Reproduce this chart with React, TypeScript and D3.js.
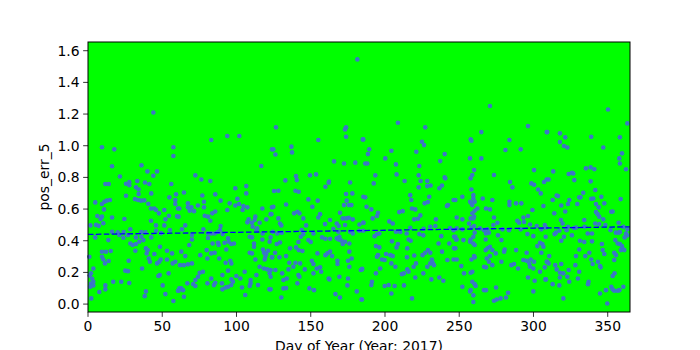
import React from "react";
import * as d3 from "d3";

// Day of year 2017 vs pos_err_5
const obsJanFeb: [number, number][] = [
  [44,1.21],[9.4,0.99],[17.7,0.977],[57.5,0.99],[57.5,0.935],[16.2,0.87],[36,0.876],[40,0.838],[46.5,0.838],[21.5,0.806],[44,0.81],[25.6,0.76],[27.8,0.77],[27.8,0.75],[11.7,0.758],[14,0.758],[33.2,0.777],[38.4,0.768],[41.3,0.758],[56.1,0.758],[32.3,0.737],[34.1,0.724],[34.1,0.695],[42.6,0.699],[59.3,0.693],[25.6,0.684],[54.8,0.674],[58.8,0.657],[4.9,0.642],[9.4,0.632],[11,0.646],[12.6,0.653],[14.8,0.657],[31.6,0.663],[33.7,0.657],[35.7,0.653],[37.9,0.655],[40.6,0.634],[10.8,0.598],[58.8,0.632],[60.6,0.604],[42.4,0.604],[44.7,0.604],[45.8,0.594],[47.8,0.573],[51.4,0.594],[6.3,0.556],[8.5,0.537],[9.4,0.552],[16.2,0.547],[24.5,0.537],[54.5,0.558],[60,0.554],[52.1,0.535],[42.4,0.526],[5.4,0.5],[7.2,0.494],[1.6,0.497],[10.3,0.51],[45.8,0.497],[51.4,0.497],[28.5,0.472],[16.2,0.457],[20,0.453],[24,0.455],[35.9,0.455],[38.6,0.453],[45.8,0.463],[49.2,0.448],[55.2,0.467],[21.1,0.436],[23.8,0.419],[26.9,0.436],[32.3,0.421],[35.9,0.425],[42.6,0.421],[13.7,0.404],[4.9,0.421],[28.5,0.383],[30.1,0.373],[32.3,0.379],[34.6,0.394],[37.3,0.404],[0.9,0.299],[9.4,0.33],[12.1,0.33],[15.3,0.335],[9.4,0.299],[10.3,0.282],[11.4,0.257],[13.9,0.272],[31.9,0.337],[39,0.352],[40.2,0.341],[39.5,0.32],[40.9,0.288],[41.7,0.267],[44.7,0.316],[48.5,0.362],[53.2,0.337],[56.6,0.32],[58.8,0.267],[57,0.257],[46.5,0.257],[48,0.267],[49,0.282],[53.2,0.282],[27.4,0.274],[3.6,0.225],[2,0.194],[25.1,0.211],[26.9,0.208],[36.4,0.225],[48.3,0.183],[47.4,0.177],[54.3,0.194],[3.6,0.141],[2,0.13],[3.6,0.118],[17,0.141],[22.4,0.141],[27.8,0.133],[11.7,0.118],[11.7,0.093],[50.3,0.118],[7.6,0.076],[39,0.08],[38.2,0.05],[52.1,0.063],[60.6,0.084],[61.5,0.099],[2.2,0.036],[57.5,0.019],[1.2,0.18],[2.8,0.16],[1.5,0.11]
];

const obsMarMay: [number, number][] = [
  [83,1.036],[93.8,1.061],[101.9,1.061],[123.9,0.977],[116.7,0.872],[72.3,0.813],[76.3,0.787],[82.4,0.777],[99.2,0.731],[106.6,0.745],[106.6,0.699],[64.6,0.705],[77,0.686],[85.7,0.693],[100.6,0.665],[67.3,0.636],[67.3,0.611],[69.6,0.611],[71.4,0.587],[68.5,0.589],[61.5,0.604],[78.1,0.646],[78.1,0.611],[74,0.623],[89.3,0.653],[85.7,0.585],[83.7,0.573],[93.8,0.594],[95.4,0.636],[99.2,0.623],[101.7,0.632],[104.6,0.619],[107.3,0.611],[104.1,0.594],[117.4,0.604],[123.9,0.611],[123,0.568],[78.6,0.558],[80.8,0.552],[82.4,0.526],[61,0.552],[112.7,0.552],[112.2,0.531],[108.2,0.535],[107.3,0.516],[110.4,0.514],[120.1,0.535],[115.6,0.514],[110.9,0.488],[113.4,0.467],[114,0.478],[65.5,0.497],[63.3,0.472],[77.7,0.472],[89.3,0.493],[88.9,0.467],[80.8,0.446],[83,0.446],[85.3,0.446],[87.5,0.455],[90.7,0.442],[70,0.436],[70,0.408],[80.8,0.417],[83.9,0.383],[94.3,0.415],[94.7,0.394],[92,0.387],[96.5,0.379],[98.3,0.383],[108.9,0.425],[110.4,0.421],[111.8,0.383],[111.8,0.362],[117.6,0.446],[117.4,0.408],[123,0.421],[122.3,0.394],[87.5,0.387],[88,0.373],[68.2,0.373],[62.8,0.331],[65.5,0.303],[79.9,0.341],[80.4,0.288],[75.6,0.309],[83,0.32],[85.3,0.324],[93.1,0.345],[88.4,0.288],[92.7,0.261],[95.8,0.274],[96.5,0.257],[108.9,0.324],[110.4,0.32],[112.7,0.282],[117.8,0.345],[118.5,0.324],[119.4,0.299],[120,0.316],[121.2,0.337],[119,0.282],[123.9,0.295],[115.6,0.236],[118.5,0.225],[120.8,0.219],[122.3,0.194],[62,0.246],[64.6,0.246],[67.3,0.251],[70,0.257],[94.3,0.211],[105.5,0.204],[113.4,0.183],[75.2,0.198],[77.4,0.204],[74.1,0.173],[72.3,0.152],[83,0.162],[90.5,0.183],[99.9,0.177],[102.6,0.162],[96.5,0.156],[109.5,0.152],[109.5,0.131],[108.9,0.114],[114.5,0.12],[66.9,0.131],[70.9,0.126],[72.3,0.114],[80.4,0.131],[85.7,0.135],[84.8,0.12],[90.2,0.131],[94.3,0.109],[96.5,0.12],[97.6,0.141],[90.5,0.093],[92.7,0.105],[103.7,0.105],[62.8,0.099],[61,0.084],[64,0.088],[122.1,0.093],[64.6,0.046],[105.9,0.057]
];

const obsMayJul: [number, number][] = [
  [181.4,1.545],[126.6,1.116],[173.8,1.116],[173.1,1.103],[173.8,1.057],[124.8,0.977],[126.2,0.945],[137,0.994],[137.4,0.958],[155.1,1.036],[185,1.04],[165.7,0.901],[172.4,0.888],[180,0.893],[132.9,0.781],[140.1,0.808],[140.6,0.783],[149.5,0.813],[153.6,0.819],[162.3,0.773],[162.1,0.766],[159.9,0.741],[176.5,0.768],[125.3,0.714],[128.2,0.716],[139.7,0.716],[141.9,0.709],[173.8,0.695],[174.2,0.653],[178,0.699],[148.4,0.661],[154.7,0.653],[124.8,0.615],[133.4,0.629],[151.1,0.615],[172.4,0.625],[175.6,0.625],[177.4,0.625],[123.5,0.568],[138.8,0.573],[141,0.583],[142.4,0.573],[156.3,0.568],[155.1,0.547],[169.7,0.577],[128.2,0.541],[129.3,0.509],[130.2,0.497],[145,0.541],[163,0.531],[171.5,0.541],[173.8,0.541],[175.6,0.545],[178.3,0.535],[146.9,0.497],[159.6,0.505],[167.5,0.509],[168.8,0.493],[173.1,0.499],[182.8,0.503],[185.5,0.514],[124.4,0.457],[127.5,0.446],[130.5,0.45],[143.9,0.467],[145,0.442],[143.3,0.425],[151.8,0.446],[165.2,0.476],[168.6,0.457],[169.3,0.425],[167.5,0.415],[176.5,0.457],[178.3,0.446],[182.8,0.463],[148.4,0.404],[150,0.392],[157.6,0.421],[159.9,0.413],[163,0.413],[168.8,0.408],[170.2,0.404],[171.5,0.394],[173.1,0.394],[171.5,0.379],[176,0.383],[141.7,0.392],[129.3,0.389],[127.1,0.379],[136.1,0.352],[140.1,0.358],[141.9,0.341],[144.4,0.335],[176,0.331],[154.5,0.32],[126,0.324],[124,0.295],[128.9,0.295],[133.4,0.303],[161.2,0.32],[163,0.331],[164.4,0.303],[159.9,0.309],[177.6,0.288],[175.1,0.274],[176,0.236],[135.6,0.261],[139.7,0.261],[142.8,0.257],[150.7,0.274],[151.8,0.253],[168,0.274],[168,0.253],[123,0.215],[123,0.173],[126.2,0.215],[138.3,0.236],[146,0.219],[154,0.225],[156.3,0.232],[157,0.204],[135,0.219],[130.7,0.194],[133.8,0.162],[131.6,0.152],[141.7,0.183],[142.4,0.173],[141,0.131],[151.8,0.194],[162.1,0.162],[162.6,0.156],[169.3,0.173],[175.1,0.162],[183.7,0.215],[184.6,0.223],[174.7,0.118],[131.6,0.099],[133.4,0.101],[123,0.093],[149.1,0.099],[152.2,0.088],[166.6,0.063],[169.7,0.042],[181,0.08],[130.2,0.042],[184.1,0.029]
];

const obsJulSep: [number, number][] = [
  [208.7,1.145],[227.1,1.116],[185.4,1.04],[224.9,1.025],[226.3,1.004],[189.4,0.977],[188.5,0.947],[204.3,0.968],[221.1,0.962],[240.2,0.947],[200.2,0.92],[186.7,0.888],[188.1,0.888],[207.4,0.882],[237.2,0.903],[223.1,0.872],[193.5,0.813],[207.8,0.819],[222.7,0.813],[240.2,0.8],[240.6,0.794],[213.2,0.777],[192.4,0.762],[224,0.777],[228.5,0.777],[230.7,0.749],[228.5,0.745],[222.7,0.737],[236.6,0.731],[238.4,0.749],[185.4,0.678],[186.7,0.674],[217,0.688],[217.7,0.657],[229.8,0.678],[228.9,0.644],[226.7,0.636],[246.2,0.657],[242.4,0.625],[241.7,0.619],[187.6,0.615],[190.8,0.598],[195.3,0.577],[194.6,0.556],[191.7,0.541],[209.6,0.581],[211.9,0.587],[218.2,0.604],[220.4,0.598],[223.8,0.56],[222.2,0.539],[219.7,0.535],[234.3,0.535],[185.4,0.514],[202.9,0.522],[205.2,0.509],[230.5,0.488],[233.9,0.493],[217,0.482],[226,0.476],[243.8,0.48],[246.2,0.467],[185.4,0.463],[193,0.429],[194.6,0.442],[196.2,0.446],[207.4,0.457],[210.3,0.455],[214.6,0.446],[223.1,0.442],[225.8,0.434],[237.9,0.429],[246.5,0.425],[247.8,0.408],[215.9,0.408],[217.3,0.4],[204.7,0.396],[208.7,0.379],[207.8,0.358],[193.9,0.366],[196.2,0.358],[215,0.352],[236.1,0.383],[243.3,0.383],[246.5,0.352],[228.9,0.341],[227.1,0.324],[225.3,0.309],[230.5,0.324],[238.4,0.331],[195.3,0.309],[194.6,0.299],[198,0.282],[199.8,0.278],[200.7,0.316],[203.6,0.309],[205.2,0.303],[214.8,0.295],[219.7,0.307],[231.6,0.282],[232.1,0.261],[233,0.246],[230.5,0.257],[242,0.278],[246.2,0.282],[204.3,0.257],[207,0.236],[220.9,0.257],[219.3,0.236],[228.5,0.236],[184.5,0.219],[196.8,0.225],[193.9,0.194],[215,0.219],[215.9,0.204],[211.4,0.189],[212.8,0.194],[225.8,0.194],[220.4,0.168],[231.2,0.156],[236.6,0.168],[239.3,0.147],[191.2,0.141],[190.8,0.12],[199.8,0.114],[202.5,0.12],[206.5,0.114],[212.8,0.118],[204.3,0.067],[184.5,0.029],[218.2,0.036]
];

const obsSepNov: [number, number][] = [
  [270.7,1.251],[296.3,1.124],[308.9,1.086],[264.9,1.086],[257.7,1.04],[258.2,1.032],[283.8,1.036],[281.1,0.973],[291.4,0.977],[257.3,0.92],[264.9,0.92],[300.4,0.846],[260,0.846],[258.8,0.815],[257.7,0.794],[273.4,0.815],[284.2,0.771],[285.8,0.737],[298.6,0.762],[300.4,0.754],[307.1,0.771],[308.9,0.787],[303.1,0.724],[304.9,0.699],[258.2,0.724],[252.1,0.678],[259.5,0.688],[259.5,0.667],[260.4,0.646],[258.2,0.636],[258.8,0.625],[257.3,0.646],[265.8,0.667],[272.3,0.657],[283.8,0.646],[283.8,0.625],[288.3,0.636],[291.8,0.636],[306.7,0.619],[247.4,0.657],[262.2,0.604],[260.4,0.589],[258.8,0.573],[260,0.552],[268,0.604],[270.7,0.598],[299.3,0.594],[248.3,0.547],[252.1,0.535],[257.7,0.541],[259.5,0.541],[273.4,0.547],[293.2,0.547],[296.3,0.556],[289.1,0.526],[290.3,0.514],[293.6,0.518],[275.7,0.514],[273,0.499],[297.7,0.503],[302.2,0.493],[307.6,0.499],[256.6,0.509],[258.2,0.484],[260,0.493],[248.3,0.478],[252.1,0.472],[264,0.478],[266.7,0.467],[268.9,0.472],[270,0.451],[268,0.446],[279.1,0.472],[283.5,0.467],[291.4,0.472],[305.3,0.472],[260.4,0.451],[259.5,0.425],[257.7,0.408],[276.1,0.434],[299.9,0.429],[295.9,0.442],[308.2,0.425],[247.4,0.425],[248.3,0.408],[252.8,0.404],[257.3,0.394],[267.8,0.408],[278.4,0.404],[259.5,0.383],[260.4,0.373],[247.4,0.352],[248.3,0.282],[269,0.352],[267.8,0.341],[270.7,0.362],[272.3,0.341],[280.6,0.345],[280.2,0.331],[288.3,0.341],[304.4,0.387],[306,0.379],[306.7,0.362],[302.6,0.366],[305.3,0.324],[274.6,0.32],[295.4,0.324],[270.7,0.303],[268.5,0.288],[260,0.303],[258.2,0.282],[260.4,0.295],[251.4,0.24],[270,0.267],[272.3,0.246],[278.4,0.267],[285.1,0.246],[286.9,0.253],[293.2,0.278],[295.4,0.274],[298.1,0.282],[297.2,0.257],[300.4,0.267],[297.7,0.236],[308.9,0.267],[307.6,0.232],[266.7,0.236],[268,0.232],[289.6,0.225],[257.7,0.198],[258.8,0.204],[253.2,0.194],[304.4,0.204],[299.9,0.225],[296.3,0.168],[258.8,0.141],[260.4,0.126],[261.1,0.114],[300.8,0.147],[308,0.156],[252.1,0.109],[257.7,0.088],[257.3,0.08],[266.7,0.088],[268,0.088],[274.8,0.105],[282.9,0.072],[281.5,0.042],[277.9,0.036],[275.2,0.029],[273.4,0.021],[259.5,0.055],[259.5,0.013],[299.9,0.08]
];

const obsNovDec: [number, number][] = [
  [350.2,1.229],[363.2,1.141],[309.3,1.086],[317.8,1.078],[321.4,1.053],[338.9,1.057],[358.2,1.053],[317.8,1.023],[320.5,0.998],[322.8,0.989],[347,0.989],[359.6,0.952],[357.8,0.92],[358.2,0.888],[362.3,0.851],[313.3,0.838],[335.3,0.857],[338.5,0.863],[341,0.851],[323.7,0.821],[325.9,0.829],[326.8,0.825],[310.2,0.787],[327.5,0.783],[338.5,0.775],[333.5,0.703],[331.7,0.674],[330.8,0.674],[341.6,0.72],[315.6,0.686],[316.5,0.682],[312.9,0.657],[324.1,0.657],[338.9,0.665],[340.3,0.667],[345.7,0.678],[358.7,0.663],[323.2,0.632],[318.7,0.623],[329.5,0.632],[342.1,0.632],[343.9,0.611],[347.7,0.636],[352.4,0.583],[353.3,0.585],[314,0.573],[321.4,0.585],[342.1,0.581],[343.2,0.568],[344.3,0.552],[334.2,0.531],[347,0.535],[318.5,0.531],[319.6,0.509],[341.6,0.509],[344.3,0.505],[348.4,0.499],[357.3,0.514],[360.5,0.488],[308.4,0.484],[323.2,0.488],[327.3,0.48],[328.6,0.484],[334.4,0.488],[351.9,0.467],[363.2,0.472],[317.4,0.463],[315.1,0.451],[314.2,0.442],[322.3,0.467],[336.5,0.446],[339.4,0.446],[355.5,0.451],[357.3,0.451],[358.2,0.455],[362.3,0.446],[363.2,0.434],[361.4,0.421],[325.9,0.434],[320.5,0.425],[318.7,0.4],[331.3,0.4],[334.2,0.392],[339.4,0.396],[346.1,0.379],[355.1,0.404],[356.7,0.383],[358.2,0.379],[359.6,0.366],[360,0.349],[358.9,0.341],[361.2,0.341],[330.8,0.345],[337.6,0.324],[346.6,0.341],[347.7,0.316],[354.4,0.324],[355.5,0.309],[310.6,0.303],[328.6,0.303],[334.9,0.303],[338.9,0.282],[354.4,0.278],[309.3,0.267],[310.2,0.257],[314.7,0.246],[315.6,0.219],[318.7,0.253],[328.2,0.246],[343.4,0.267],[344.8,0.24],[345.2,0.232],[339.8,0.253],[323.7,0.215],[330.8,0.204],[317.8,0.198],[317.8,0.168],[320.1,0.194],[354.6,0.194],[353.3,0.177],[322.8,0.173],[329.9,0.162],[308.4,0.156],[337.1,0.141],[336.7,0.126],[324.1,0.141],[312.9,0.126],[317.4,0.118],[352.4,0.109],[353.3,0.093],[354.4,0.084],[356.7,0.084],[357.8,0.088],[360.5,0.109],[348.8,0.088],[344.8,0.067],[320.1,0.036],[349.7,0.004]
];

const observations = [...obsJanFeb, ...obsMarMay, ...obsMayJul, ...obsJulSep, ...obsSepNov, ...obsNovDec];

const trendDays = [0, 365];
const trendValues = [0.44, 0.488];

const xTicks = [0, 50, 100, 150, 200, 250, 300, 350];
const yTicks = [0, 0.2, 0.4, 0.6, 0.8, 1.0, 1.2, 1.4, 1.6];
const xLabel = "Day of Year (Year: 2017)";
const yLabel = "pos_err_5";

const W = 700, H = 350;
const L = 88, R = 630, T = 42, B = 312;
const FONT = "DejaVu Sans, sans-serif";
const FS = 13.9;

export default function App() {
  const x = d3.scaleLinear().domain([0, 365]).range([L, R]);
  const y = d3.scaleLinear().domain([-0.05, 1.655]).range([B, T]);
  const trend = d3.line<number>().x((_, i) => x(trendDays[i])).y((v) => y(v))(trendValues) || "";
  const tickLen = 4.86;
  return (
    <svg width={W} height={H} style={{ position: "absolute", left: 0, top: 0, background: "#fff" }}
      fontFamily={FONT}>
      <rect x={0} y={0} width={W} height={H} fill="#fff" />
      <rect x={L} y={T} width={R - L} height={B - T} fill="#00ff00" />
      <g>
        {observations.map(([d, v], i) => (
          <circle key={i} cx={x(d)} cy={y(v)} r={2.3} fill="#3b77c6" />
        ))}
      </g>
      <path d={trend} fill="none" stroke="#0000ff" strokeWidth={1.3} strokeDasharray="5.5,2.4" />
      <rect x={L} y={T} width={R - L} height={B - T} fill="none" stroke="#000" strokeWidth={1} />
      {xTicks.map((t) => (
        <g key={"x" + t}>
          <line x1={x(t)} x2={x(t)} y1={B} y2={B + tickLen} stroke="#000" strokeWidth={0.8} />
          <text x={x(t)} y={B + tickLen + 3.5 + 10.6} textAnchor="middle" fontSize={FS} fill="#000">{t}</text>
        </g>
      ))}
      {yTicks.map((t) => (
        <g key={"y" + t}>
          <line x1={L - tickLen} x2={L} y1={y(t)} y2={y(t)} stroke="#000" strokeWidth={0.8} />
          <text x={L - tickLen - 3.5} y={y(t)} dy="0.36em" textAnchor="end" fontSize={FS} fill="#000">{t.toFixed(1)}</text>
        </g>
      ))}
      <text x={(L + R) / 2} y={351} textAnchor="middle" fontSize={FS} fill="#000">{xLabel}</text>
      <text x={49} y={(T + B) / 2} transform={`rotate(-90, 49, ${(T + B) / 2})`} textAnchor="middle" fontSize={FS} fill="#000">{yLabel}</text>
    </svg>
  );
}
